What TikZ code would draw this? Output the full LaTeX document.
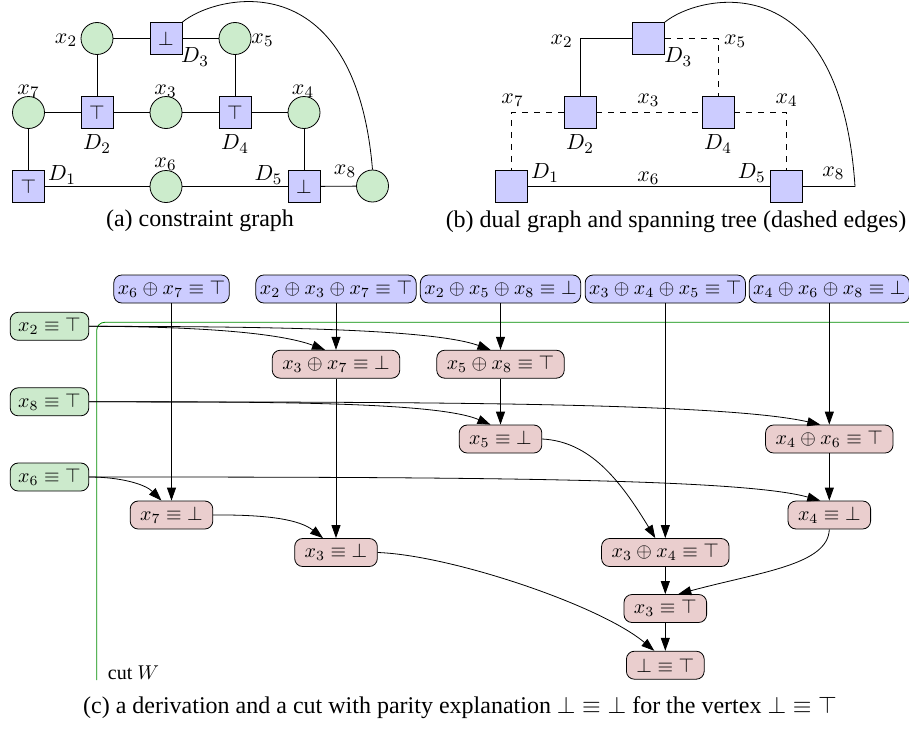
\documentclass[tikz,border=0pt]{standalone}
\usepackage{amsmath, amssymb}
\usepackage{fontspec}
\setmainfont{Liberation Serif}
\usepackage{tikz}
\usetikzlibrary{arrows.meta}

\begin{document}
\begin{tikzpicture}[x=0.5pt,y=0.5pt,yscale=-1,xscale=1,
  var/.style={circle,draw,fill={rgb, 255:red, 204; green, 236; blue, 204 },minimum size=16pt,inner sep=0pt},
  cons/.style={rectangle,draw,fill={rgb, 255:red, 204; green, 204; blue, 255 },minimum size=16pt,inner sep=0pt},
  lab/.style={inner sep=0.75pt,font=\fontsize{11}{13}\selectfont},
  caption/.style={inner sep=0pt,font=\fontsize{12}{14}\selectfont},
  box/.style={rectangle,draw,rounded corners=4pt,minimum height=14pt,inner xsep=5pt,inner ysep=2pt},
  axiom/.style={box,inner xsep=2pt,fill={rgb, 255:red, 204; green, 204; blue, 255 }},
  given/.style={box,inner xsep=4pt,fill={rgb, 255:red, 204; green, 234; blue, 204 }},
  derived/.style={box,fill={rgb, 255:red, 234; green, 206; blue, 206 }},
  arr/.style={-{Triangle[length=6.5pt,width=4.5pt]}},
  treeedge/.style={dashed},
  cutline/.style={draw={rgb, 255:red, 0; green, 140; blue, 0 },rounded corners=4pt}
]
\useasboundingbox (0,0) rectangle (909,728);

%%%%% (a) constraint graph
%Shape: Circle
\draw (97,38.5) node [var] (ax2) {};
\draw (235,38.5) node [var] (ax5) {};
\draw (28.5,112.5) node [var] (ax7) {};
\draw (166,112.5) node [var] (ax3) {};
\draw (304,112.5) node [var] (ax4) {};
\draw (166,186.5) node [var] (ax6) {};
\draw (372.5,186) node [var] (ax8) {};
%Shape: Square
\draw (166,38.5) node [cons] (aD3) {$\bot$};
\draw (97,112.5) node [cons] (aD2) {$\top$};
\draw (235,112.5) node [cons] (aD4) {$\top$};
\draw (28.5,186.5) node [cons] (aD1) {$\top$};
\draw (304,186.5) node [cons] (aD5) {$\bot$};

%Straight Lines
\draw (ax2) -- (aD3);
\draw (aD3) -- (ax5);
\draw (ax2) -- (aD2);
\draw (ax5) -- (aD4);
\draw (ax7) -- (aD2);
\draw (aD2) -- (ax3);
\draw (ax3) -- (aD4);
\draw (aD4) -- (ax4);
\draw (ax7) -- (aD1);
\draw (aD1) -- (ax6);
\draw (ax6) -- (aD5);
\draw (ax4) -- (aD5);
\draw (aD5) -- (ax8);
%Curve Lines
\draw (aD3.north east) .. controls (215,-5) and (355,-40) .. (ax8.north);

% Text Node
\draw (66,40) node [lab] (lx2) {$x_{2}$};
\draw (262.5,40) node [lab] (lx5) {$x_{5}$};
\draw (195,57) node [lab] (lD3) {$D_{3}$};
\draw (28.5,91) node [lab] (lx7) {$x_{7}$};
\draw (165.5,91) node [lab] (lx3) {$x_{3}$};
\draw (303,91) node [lab] (lx4) {$x_{4}$};
\draw (97,144) node [lab] (lD2) {$D_{2}$};
\draw (235,144) node [lab] (lD4) {$D_{4}$};
\draw (62,175) node [lab] (lD1) {$D_{1}$};
\draw (165.5,164) node [lab] (lx6) {$x_{6}$};
\draw (268.5,175) node [lab] (lD5) {$D_{5}$};
\draw (345,171) node [lab] (lx8) {$x_{8}$};
\draw (200,221) node [caption] (capa) {(a) constraint graph};

%%%%% (b) dual graph
%Shape: Square
\draw (511,186.5) node [cons] (bD1) {};
\draw (580,112.5) node [cons] (bD2) {};
\draw (648.5,38.5) node [cons] (bD3) {};
\draw (718,112.5) node [cons] (bD4) {};
\draw (786.7,186.5) node [cons] (bD5) {};
\coordinate (bx8) at (855,186.5);

%Straight Lines
\draw (bD2.north) |- (bD3.west);
\draw [treeedge] (bD3.east) -| (bD4.north);
\draw [treeedge] (bD2.west) -| (bD1.north);
\draw [treeedge] (bD2.east) -- (bD4.west);
\draw [treeedge] (bD4.east) -| (bD5.north);
\draw (bD1.east) -- (bD5.west);
%Curve Lines
\draw (bD5.east) -- (bx8) .. controls (840,-40) and (697.7,-5) .. (bD3.north east);

% Text Node
\draw (561.7,41) node [lab] (mx2) {$x_{2}$};
\draw (735,41) node [lab] (mx5) {$x_{5}$};
\draw (678.3,57) node [lab] (mD3) {$D_{3}$};
\draw (512.5,100) node [lab] (mx7) {$x_{7}$};
\draw (648.3,100) node [lab] (mx3) {$x_{3}$};
\draw (786.7,100) node [lab] (mx4) {$x_{4}$};
\draw (580,144) node [lab] (mD2) {$D_{2}$};
\draw (718,144) node [lab] (mD4) {$D_{4}$};
\draw (545,173) node [lab] (mD1) {$D_{1}$};
\draw (648.3,178) node [lab] (mx6) {$x_{6}$};
\draw (751.7,173) node [lab] (mD5) {$D_{5}$};
\draw (833.3,173) node [lab] (mx8) {$x_{8}$};
\draw (676,222) node [caption] (capb) {(b) dual graph and spanning tree (dashed edges)};

%%%%% (c) derivation and cut
%Straight Lines
\draw [cutline] (96.7,680) -- (96.7,322.3) -- (909,322.3);

%Shape: Rounded boxes
\draw (171.5,289) node [axiom] (c67) {$x_{6} \oplus x_{7} \equiv \top$};
\draw (336,289) node [axiom] (c237) {$x_{2} \oplus x_{3} \oplus x_{7} \equiv \top$};
\draw (500.5,289) node [axiom] (c258) {$x_{2} \oplus x_{5} \oplus x_{8} \equiv \bot$};
\draw (665.3,289) node [axiom] (c345) {$x_{3} \oplus x_{4} \oplus x_{5} \equiv \top$};
\draw (829.3,289) node [axiom] (c468) {$x_{4} \oplus x_{6} \oplus x_{8} \equiv \bot$};
\draw (49.5,326.3) node [given] (g2) {$x_{2} \equiv \top$};
\draw (49.5,401.8) node [given] (g8) {$x_{8} \equiv \top$};
\draw (49.5,477) node [given] (g6) {$x_{6} \equiv \top$};
\draw (336,364.2) node [derived] (d37) {$x_{3} \oplus x_{7} \equiv \bot$};
\draw (500.5,364.2) node [derived] (d58) {$x_{5} \oplus x_{8} \equiv \top$};
\draw (500.5,439) node [derived] (d5) {$x_{5} \equiv \bot$};
\draw (829.3,439) node [derived] (d46) {$x_{4} \oplus x_{6} \equiv \top$};
\draw (171.5,515) node [derived] (d7) {$x_{7} \equiv \bot$};
\draw (829.3,515) node [derived] (d4) {$x_{4} \equiv \bot$};
\draw (336,552.5) node [derived] (d3) {$x_{3} \equiv \bot$};
\draw (665.3,552.5) node [derived] (d34) {$x_{3} \oplus x_{4} \equiv \top$};
\draw (665.3,608.5) node [derived] (d3t) {$x_{3} \equiv \top$};
\draw (665.3,665.2) node [derived] (dbot) {$\bot \equiv \top$};

%Straight Lines
\draw [arr] (c67) -- (d7);
\draw [arr] (c237) -- (d37);
\draw [arr] (d37) -- (d3);
\draw [arr] (c258) -- (d58);
\draw [arr] (d58) -- (d5);
\draw [arr] (c345) -- (d34);
\draw [arr] (c468) -- (d46);
\draw [arr] (d46) -- (d4);
\draw [arr] (d34) -- (d3t);
\draw [arr] (d3t) -- (dbot);
%Curve Lines
\draw [arr] (g2.east) .. controls (200,326.5) and (280,333) .. ([xshift=-5.5pt]d37.north);
\draw [arr] (g2.east) .. controls (250,326.5) and (430,328) .. ([xshift=-5pt]d58.north);
\draw [arr] (g8.east) .. controls (250,402) and (435,401) .. ([xshift=-5pt]d5.north);
\draw [arr] (g8.east) .. controls (400,402) and (720,402) .. ([xshift=-4.5pt]d46.north);
\draw [arr] (g6.east) .. controls (120,477) and (145,484) .. ([xshift=-5pt]d7.north);
\draw [arr] (g6.east) .. controls (450,477) and (740,478) .. ([xshift=-4.5pt]d4.north);
\draw [arr] (d5.east) .. controls (590,441.5) and (620,480) .. ([xshift=-5pt]d34.north);
\draw [arr] (d7.east) .. controls (270,514.5) and (300,520) .. ([xshift=-6.5pt]d3.north);
\draw [arr] (d4.south) .. controls (828,565) and (760,572) .. ([xshift=6.5pt]d3t.north);
\draw [arr] (d3.east) .. controls (450,555) and (600,605) .. ([xshift=-5.5pt]dbot.north);

% Text Node
\draw (133.5,673) node [inner sep=0.75pt] (cutW) {cut $W$};
\draw (460,708) node [caption] (capc) {(c) a derivation and a cut with parity explanation $\bot \equiv \bot$ for the vertex $\bot \equiv \top$};

\end{tikzpicture}
\end{document}
